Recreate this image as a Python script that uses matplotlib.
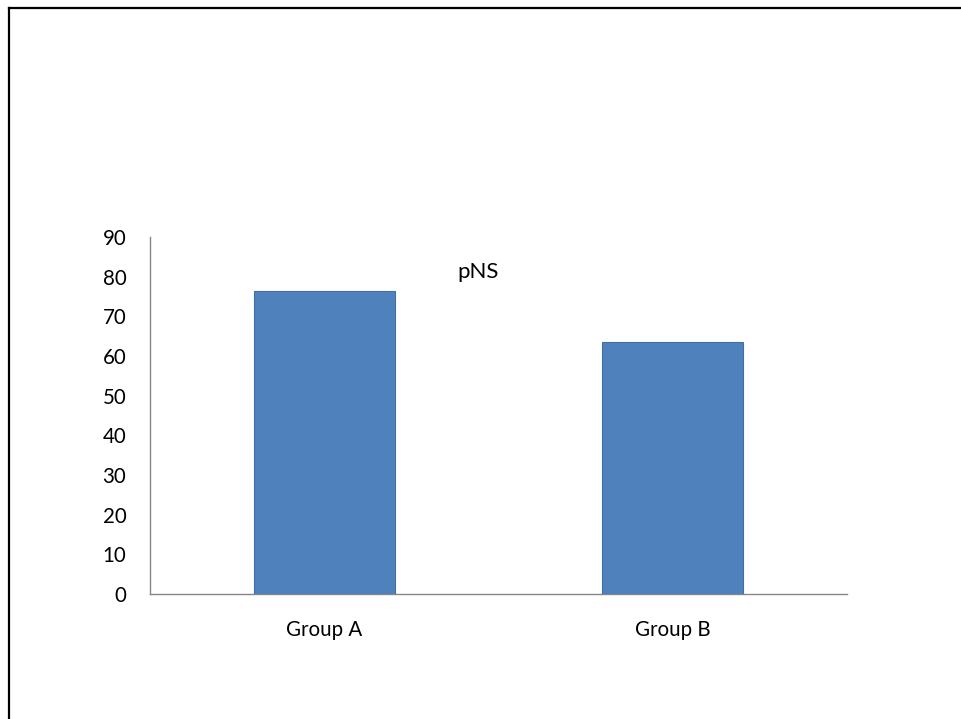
import matplotlib
matplotlib.use("Agg")
import matplotlib.pyplot as plt
from matplotlib.lines import Line2D

# Chart data
groups = ["Group A", "Group B"]
values = [76.4, 63.5]
y_ticks = [0, 10, 20, 30, 40, 50, 60, 70, 80, 90]
annotation = "pNS"

plt.rcParams["font.family"] = ["Lato", "DejaVu Sans"]

fig = plt.figure(figsize=(9.62, 7.19), dpi=100)
W, H = 962, 719

# Axes placed in pixel space
left, right, top, bottom = 150, 847, 237, 594
ax = fig.add_axes([left / W, 1 - bottom / H, (right - left) / W, (bottom - top) / H])

x = list(range(len(groups)))
ax.bar(x, values, width=0.404, color="#4F81BD", edgecolor="#3F6FA3", linewidth=0.8, zorder=3)

ax.set_xlim(-0.5, len(groups) - 0.5)
ax.set_ylim(0, 90)
ax.set_yticks(y_ticks)
ax.set_yticklabels([str(t) for t in y_ticks])
ax.set_xticks(x)
ax.set_xticklabels(groups)

for side in ("top", "right"):
    ax.spines[side].set_visible(False)
for side in ("left", "bottom"):
    ax.spines[side].set_color("#868686")
    ax.spines[side].set_linewidth(1.0)

ax.tick_params(axis="y", length=0, pad=17, labelsize=14.8, labelcolor="black")
ax.tick_params(axis="x", length=0, pad=19, labelsize=14.8, labelcolor="black")

ax.text(0.441, 79.6, annotation, ha="center", va="baseline", fontsize=16, color="black")

# Frame lines along the top and left edges of the canvas
fig.add_artist(Line2D([8.5 / W, 1.0], [1 - 7.5 / H, 1 - 7.5 / H], color="black", linewidth=1.6,
                      transform=fig.transFigure))
fig.add_artist(Line2D([8.5 / W, 8.5 / W], [0.0, 1 - 7.5 / H], color="black", linewidth=1.6,
                      transform=fig.transFigure))

fig.savefig("out.png", dpi=100)
